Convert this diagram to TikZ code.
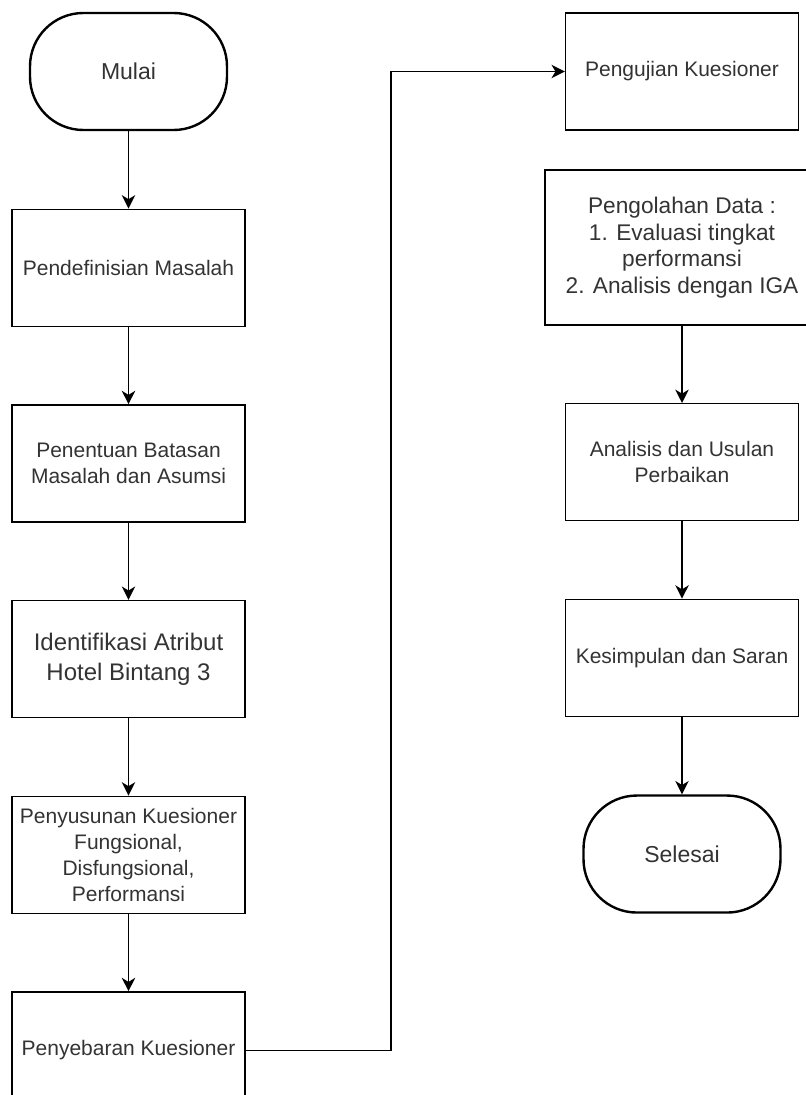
\documentclass[tikz,border=0pt]{standalone}
\usepackage{fontspec}
\setmainfont{Liberation Sans}
\usepackage{xcolor}
\usepackage{tikz}
\usetikzlibrary{arrows.meta,positioning}

\definecolor{teks}{HTML}{333333}

\begin{document}
\begin{tikzpicture}[
  x=0.75pt,y=-0.75pt,
  font=\fontsize{15.75pt}{19.5pt}\selectfont,
  box/.style={draw,line width=1pt,align=center,minimum width=174.75pt,minimum height=87.75pt,inner sep=1pt,text=teks},
  terminal/.style={draw,line width=1.8pt,rounded corners=40pt,align=center,minimum width=147.75pt,minimum height=87.75pt,text=teks,font=\fontsize{17.25pt}{20.7pt}\selectfont},
  arrow/.style={-{Stealth[length=10pt,width=10pt,inset=3pt]},line width=1.3pt},
  node distance=58pt
]
\useasboundingbox (0,0) rectangle (806,1095);

\node[terminal] (mulai) at (128.5,71.5) {Mulai};
\node[box,below=of mulai] (definisi) {Pendefinisian Masalah};
\node[box,below=of definisi] (batasan) {Penentuan Batasan\\Masalah dan Asumsi};
\node[box,below=of batasan,font=\fontsize{18pt}{22.5pt}\selectfont] (atribut) {Identifikasi Atribut\\Hotel Bintang 3};
\node[box,below=of atribut] (susun) {Penyusunan Kuesioner\\Fungsional,\\Disfungsional,\\Performansi};
\node[box,below=of susun] (sebar) {Penyebaran Kuesioner};

\node[box] (uji) at (682,71.5) {Pengujian Kuesioner};
\node[box,below=29pt of uji,minimum width=205.5pt,minimum height=116.25pt,font=\fontsize{17pt}{20pt}\selectfont] (olah) {Pengolahan Data :\\1. Evaluasi tingkat\\performansi\\2. Analisis dengan IGA};
\node[box,below=of olah] (analisis) {Analisis dan Usulan\\Perbaikan};
\node[box,below=of analisis] (simpulan) {Kesimpulan dan Saran};
\node[terminal,below=of simpulan] (selesai) {Selesai};

\draw[arrow] (mulai) -- (definisi);
\draw[arrow] (definisi) -- (batasan);
\draw[arrow] (batasan) -- (atribut);
\draw[arrow] (atribut) -- (susun);
\draw[arrow] (susun) -- (sebar);
\draw[arrow] (sebar.east) -- ++(145,0) |- (uji.west);
\draw[arrow] (olah) -- (analisis);
\draw[arrow] (analisis) -- (simpulan);
\draw[arrow] (simpulan) -- (selesai);
\end{tikzpicture}
\end{document}
